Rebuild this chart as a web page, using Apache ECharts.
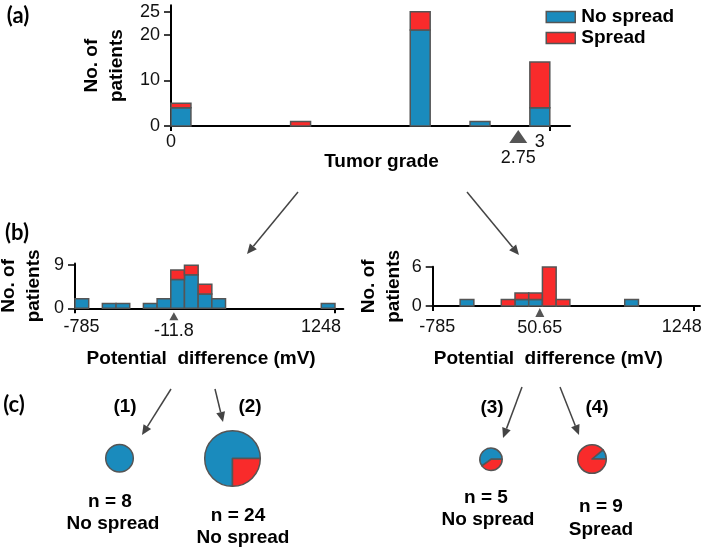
<!DOCTYPE html>
<html><head><meta charset="utf-8">
<script src="https://cdn.jsdelivr.net/npm/echarts@6/dist/echarts.min.js"></script>
<style>html,body{margin:0;padding:0;background:#fff}#c{width:709px;height:550px}</style>
</head><body><div id="c"></div>
<script>
// ---------------- data ----------------
const gradeLo = 0, gradeHi = 3;
const gradeNoSpread = [4,0,0,0,0,0,0,0,0,0,0,0,21,0,0,1,0,0,4];
const gradeSpread   = [1,0,0,0,0,0,1,0,0,0,0,0,4,0,0,0,0,0,10];
const gradeThreshold = 2.75;
const gradeXTicks = [0, 3];
const gradeYTicks = [0, 10, 20, 25];

const pdLo = -785, pdHi = 1248;
const pdXTicks = [-785, 1248];
const leftNoSpread  = [2,0,1,1,0,1,2,6,7,3,2,0,0,0,0,0,0,0,1];
const leftSpread    = [0,0,0,0,0,0,0,2,2,2,0,0,0,0,0,0,0,0,0];
const leftThreshold = -11.8;
const leftYTicks = [0, 9];
const rightNoSpread = [0,0,1,0,0,0,1,1,0,0,0,0,0,0,1,0,0,0,0];
const rightSpread   = [0,0,0,0,0,1,1,1,6,1,0,0,0,0,0,0,0,0,0];
const rightThreshold = 50.65;
const rightYTicks = [0, 6];

const groupIds      = ['(1)','(2)','(3)','(4)'];
const groupNoSpread = [8, 18, 3, 1];
const groupSpread   = [0, 6, 2, 8];
const groupOutcome  = ['No spread','No spread','No spread','Spread'];

// ---------------- style / layout ----------------
const BLUE = '#1a8bbd', RED = '#f92b2b', EDGE = '#555', INK = '#111';
const FONT = 'Liberation Sans, Arial, sans-serif';
const pieLayout = [
  {c:[119.5,458.3], r:13.8, start:90,  id:[125,407], n:[110,502], o:[113,524]},
  {c:[232.5,458.5], r:27.8, start:270, id:[250,407], n:[238,516], o:[243,538]},
  {c:[491,459.3],   r:11.2, start:216, id:[492,408], n:[486,498], o:[488,520]},
  {c:[592,459],     r:14.3, start:40,  id:[597,408], n:[601,507], o:[601,530]}
];
const arrows = [[298,192,247,254],[467,192,519,255],[171,389,142,435],[215,389,223,422],[522,387,503,438],[560,387,579,435]];

function histSeries(name, color, gi, base, vals, lo, hi) {
  const w = (hi - lo) / vals.length;
  const data = vals.map((v, i) => [lo + i * w, lo + (i + 1) * w, base[i], base[i] + v, v]);
  return {
    type: 'custom', name, xAxisIndex: gi, yAxisIndex: gi, silent: true,
    itemStyle: {color, borderColor: EDGE, borderWidth: 1.5},
    encode: {x: [0, 1], y: [2, 3]},
    renderItem(params, api) {
      if (api.value(4) <= 0) return null;
      const p0 = api.coord([api.value(0), api.value(2)]);
      const p1 = api.coord([api.value(1), api.value(3)]);
      return {type: 'rect', shape: {x: p0[0], y: p1[1], width: p1[0] - p0[0], height: p0[1] - p1[1]},
        style: {fill: color, stroke: EDGE, lineWidth: 1.5}};
    },
    data
  };
}
function marker(gi, value, size, offset, dist, fontSize) {
  return {
    type: 'scatter', xAxisIndex: gi, yAxisIndex: gi, silent: true, clip: false, z: 5,
    symbol: 'triangle', symbolSize: size, symbolOffset: [0, offset],
    itemStyle: {color: '#555', opacity: 1},
    label: {show: true, position: 'bottom', distance: dist, formatter: String(value),
      color: INK, fontFamily: FONT, fontSize: fontSize},
    data: [[value, 0]]
  };
}
const zeros = n => new Array(n).fill(0);

function xAxisCfg(gi, min, max, ticks, rich, fmt, margin, name, nameGap, namePad, labelSize) {
  return {
    gridIndex: gi, type: 'value', min, max,
    axisLine: {onZero: false, lineStyle: {color: '#000', width: 2}},
    axisTick: {customValues: ticks, length: 5, lineStyle: {color: '#000', width: 2}},
    axisLabel: {customValues: ticks, margin, formatter: fmt, color: INK, fontFamily: FONT, fontSize: labelSize, rich},
    splitLine: {show: false},
    name, nameLocation: 'middle', nameGap,
    nameTextStyle: {fontFamily: FONT, fontWeight: 'bold', fontSize: 19, color: '#000', padding: namePad}
  };
}
function yAxisCfg(gi, max, ticks, nameGap, labelSize) {
  return {
    gridIndex: gi, type: 'value', min: 0, max,
    axisLine: {show: true, onZero: false, lineStyle: {color: '#000', width: 2}},
    axisTick: {show: true, customValues: ticks, length: 7, lineStyle: {color: '#000', width: 1.5}},
    axisLabel: {customValues: ticks, margin: 11, color: INK, fontFamily: FONT, fontSize: labelSize},
    splitLine: {show: false},
    name: 'No. of\npatients', nameLocation: 'middle', nameRotate: 90, nameGap,
    nameTextStyle: {fontFamily: FONT, fontWeight: 'bold', fontSize: 19, lineHeight: 25, color: '#000'}
  };
}

const chart = echarts.init(document.getElementById('c'), null, {renderer: 'canvas'});

const series = [
  histSeries('No spread', BLUE, 0, zeros(19), gradeNoSpread, gradeLo, gradeHi),
  histSeries('Spread', RED, 0, gradeNoSpread, gradeSpread, gradeLo, gradeHi),
  histSeries('No spread', BLUE, 1, zeros(19), leftNoSpread, pdLo, pdHi),
  histSeries('Spread', RED, 1, leftNoSpread, leftSpread, pdLo, pdHi),
  histSeries('No spread', BLUE, 2, zeros(19), rightNoSpread, pdLo, pdHi),
  histSeries('Spread', RED, 2, rightNoSpread, rightSpread, pdLo, pdHi),
  marker(0, gradeThreshold, [18, 13], 10.5, 6, 18),
  marker(1, leftThreshold, [9, 8], 8, 2, 18),
  marker(2, rightThreshold, [9, 9], 6.5, 2, 18)
];
pieLayout.forEach((p, i) => {
  const d = [];
  if (groupNoSpread[i] > 0) d.push({value: groupNoSpread[i], name: 'No spread', itemStyle: {color: BLUE}});
  if (groupSpread[i] > 0) d.push({value: groupSpread[i], name: 'Spread', itemStyle: {color: RED}});
  series.push({
    type: 'pie', center: p.c, radius: p.r, startAngle: p.start, clockwise: true, silent: true,
    label: {show: false}, labelLine: {show: false}, legendHoverLink: false,
    itemStyle: {borderColor: EDGE, borderWidth: 1.5}, data: d
  });
});

const graphic = [];
[['(a)', 18, 16], ['(b)', 17, 233], ['(c)', 14, 405]].forEach(t => graphic.push({
  type: 'text', x: t[1], y: t[2], style: {text: t[0], fontFamily: 'Lato, sans-serif', fontWeight: 'bold',
  fontSize: 22, fill: '#000', align: 'center', verticalAlign: 'middle'}}));
pieLayout.forEach((p, i) => {
  [[groupIds[i], p.id], ['n = ' + (groupNoSpread[i] + groupSpread[i]), p.n], [groupOutcome[i], p.o]].forEach(t =>
    graphic.push({type: 'text', x: t[1][0], y: t[1][1], style: {text: t[0], fontFamily: FONT, fontWeight: 'bold',
      fontSize: 19, fill: '#000', align: 'center', verticalAlign: 'middle'}}));
});
arrows.forEach(a => {
  const [x1, y1, x2, y2] = a;
  const L = Math.hypot(x2 - x1, y2 - y1), ux = (x2 - x1) / L, uy = (y2 - y1) / L;
  const hl = 10, hw = 4.5;
  const bx = x2 - ux * hl, by = y2 - uy * hl;
  graphic.push({type: 'line', shape: {x1, y1, x2: bx, y2: by}, style: {stroke: '#444', lineWidth: 1.5}});
  graphic.push({type: 'polygon', shape: {points: [[x2, y2], [bx - uy * hw, by + ux * hw], [bx + uy * hw, by - ux * hw]]},
    style: {fill: '#444'}});
});

chart.setOption({
  animation: false,
  backgroundColor: '#fff',
  grid: [
    {left: 171, top: 5.3, width: 399, height: 120.7, containLabel: false, outerBoundsMode: 'none'},
    {left: 75, top: 263.5, width: 268.3, height: 44.8, containLabel: false, outerBoundsMode: 'none'},
    {left: 432.7, top: 266.7, width: 267.3, height: 39.3, containLabel: false, outerBoundsMode: 'none'}
  ],
  legend: {
    data: ['No spread', 'Spread'], orient: 'vertical', left: 545.5, top: 7.5, icon: 'rect',
    itemWidth: 29, itemHeight: 11, itemGap: 2, padding: 0,
    itemStyle: {borderColor: EDGE, borderWidth: 1.5},
    textStyle: {fontFamily: FONT, fontWeight: 'bold', fontSize: 19, color: '#000', lineHeight: 19, padding: [-3, 0, 0, 1]},
    selectedMode: false
  },
  xAxis: [
    xAxisCfg(0, 0, 3.16, gradeXTicks, {s: {padding: [0, 20, 0, 0], fontFamily: FONT, fontSize: 18, color: INK}},
      v => v === 3 ? '{s|3}' : String(v), 7, 'Tumor grade', 23, [0, 0, 0, 22], 18),
    xAxisCfg(1, pdLo, 1313, pdXTicks, {l: {padding: [0, 0, 0, 13], fontFamily: FONT, fontSize: 18, color: INK},
      r: {padding: [0, 28, 0, 0], fontFamily: FONT, fontSize: 18, color: INK}},
      v => v === pdLo ? '{l|' + v + '}' : '{r|' + v + '}', 10, 'Potential  difference (mV)', 41, [0, 16, 0, 0], 18),
    xAxisCfg(2, pdLo, 1300, pdXTicks, {l: {padding: [0, 0, 0, 9], fontFamily: FONT, fontSize: 18, color: INK},
      r: {padding: [0, 23, 0, 0], fontFamily: FONT, fontSize: 18, color: INK}},
      v => v === pdLo ? '{l|' + v + '}' : '{r|' + v + '}', 12, 'Potential  difference (mV)', 43, [0, 36, 0, 0], 18)
  ],
  yAxis: [
    yAxisCfg(0, 26.4, gradeYTicks, 42, 18),
    yAxisCfg(1, 9.35, leftYTicks, 28.5, 18),
    yAxisCfg(2, 6.05, rightYTicks, 26, 18)
  ],
  series,
  graphic
});
</script>
</body></html>
